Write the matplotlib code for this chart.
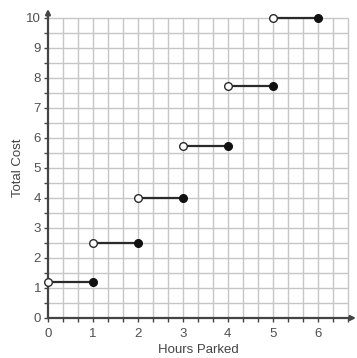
import matplotlib
matplotlib.use("Agg")
import matplotlib.pyplot as plt
import numpy as np

hours_start = [0, 1, 2, 3, 4, 5]
hours_end = [1, 2, 3, 4, 5, 6]
costs = [1.2, 2.5, 4, 5.75, 7.75, 10]
x_ticks = [0, 1, 2, 3, 4, 5, 6]
y_ticks = [0, 1, 2, 3, 4, 5, 6, 7, 8, 9, 10]

plt.rcParams['font.family'] = ['Liberation Sans', 'DejaVu Sans']
fig = plt.figure(figsize=(3.57, 3.58), dpi=100)
ax = fig.add_axes([48/357, 40/358, 308/357, 309/358])
xmax, ymax = 6.85, 10.3
ax.set_xlim(0, xmax)
ax.set_ylim(0, ymax)

grid_c = '#c6c6c6'
gx = np.arange(0, 20 + 1) / 3.0
gy = np.arange(0, 21) * 0.5
ax.vlines(gx[1:], 0, 10, colors=grid_c, lw=1.0, zorder=1)
ax.hlines(gy[1:], 0, 20/3, colors=grid_c, lw=1.0, zorder=1)

for s in ['top', 'right', 'left', 'bottom']:
    ax.spines[s].set_visible(False)
axc = '#444444'
ax.annotate('', xy=(xmax, 0), xytext=(0, 0), xycoords='data',
            arrowprops=dict(arrowstyle='-|>', color=axc, lw=1.6, mutation_scale=7,
                            shrinkA=0, shrinkB=0), annotation_clip=False, zorder=3)
ax.annotate('', xy=(0, ymax), xytext=(0, 0), xycoords='data',
            arrowprops=dict(arrowstyle='-|>', color=axc, lw=1.6, mutation_scale=7,
                            shrinkA=0, shrinkB=0), annotation_clip=False, zorder=3)

ax.set_xticks(x_ticks)
ax.set_xticks(gx, minor=True)
ax.set_yticks(y_ticks)
ax.set_yticks(gy, minor=True)
ax.tick_params(which='both', direction='out', length=3, width=1, color=axc,
               labelsize=9.5, labelcolor='#505050')
ax.tick_params(axis='y', pad=2)
ax.tick_params(axis='x', pad=4)

for xs, xe, c in zip(hours_start, hours_end, costs):
    ax.plot([xs, xe], [c, c], color='#2a2a2a', lw=1.6, zorder=4, clip_on=False)
    ax.plot([xs], [c], marker='o', ms=5.5, mfc='white', mec='#2a2a2a', mew=1.0,
            zorder=5, clip_on=False)
    ax.plot([xe], [c], marker='o', ms=5.5, mfc='#111111', mec='#111111', mew=1.0,
            zorder=5, clip_on=False)

fig.text(198/357, 1 - 350/358, 'Hours Parked', ha='center', va='center',
         fontsize=9.5, color='#444444')
fig.text(18/357, 1 - 168/358, 'Total Cost', ha='center', va='center',
         rotation=90, fontsize=9.5, color='#444444')

fig.savefig('out.png', dpi=100)
